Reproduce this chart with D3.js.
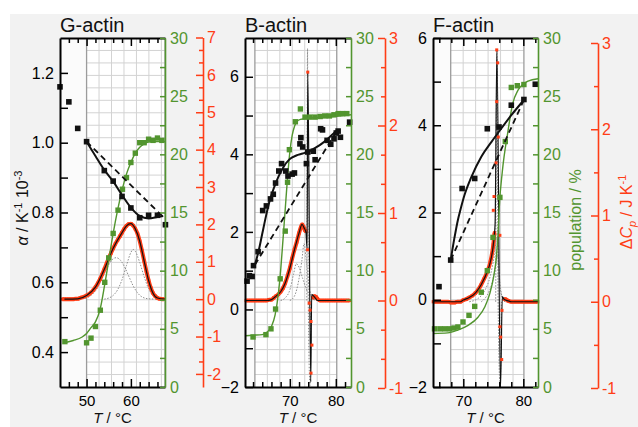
<!DOCTYPE html>
<html>
<head>
<meta charset="utf-8">
<script src="https://cdn.jsdelivr.net/npm/d3@7"></script>
<style>
  body { margin: 0; background: #fff; }
  text { font-family: "Liberation Sans", Arial, sans-serif; }
</style>
</head>
<body>
<svg id="fig" width="638" height="427"></svg>
<script>

// ---------- G-actin ----------
var gAlpha = [[44,1.16],[46,1.117],[48,1.041],[50,1.003],[54,0.92],[56,0.89],[58,0.846],[60,0.813],[62,0.785],[64,0.792],[66,0.792],[67.8,0.765]];
var gAlphaFit = [[50,1.003],[52,0.962],[54,0.922],[56,0.889],[58,0.85],[60,0.814],[62,0.79],[64,0.783],[66,0.787],[67.3,0.79]];
var gAlphaLin = [[50,1.003],[67.3,0.787]];
var gPop = [[45.1,3.9],[50,3.8],[51,4.2],[52,5.2],[53.1,6.6],[54.1,9.0],[55,11.1],[56,13.2],[57.1,15.2],[58.1,17.0],[59,18.0],[60,19.3],[61,20.1],[62,21.0],[63,21.0],[64,21.3],[65,21.2],[66,21.4],[67,21.2]];
var gPopFit = [[45,3.8],[47,4.0],[49,4.3],[50,4.6],[51,5.1],[52,5.6],[53,6.6],[54,8.6],[55,10.9],[56,13.2],[57,15.2],[58,16.9],[59,18.3],[60,19.3],[61,20.1],[62,20.6],[63,20.9],[64,21.05],[66,21.1],[67.7,21.1]];
var gCp = [[44.5,0],[45,0],[45.5,0],[46,0],[46.5,0],[47,0],[47.5,0.01],[48,0.01],[48.5,0.03],[49,0.05],[49.5,0.07],[50,0.1],[50.5,0.13],[51,0.18],[51.5,0.24],[52,0.32],[52.5,0.42],[53,0.53],[53.5,0.66],[54,0.8],[54.5,0.95],[55,1.1],[55.5,1.23],[56,1.36],[56.5,1.48],[57,1.58],[57.5,1.68],[58,1.78],[58.5,1.88],[59,1.96],[59.5,2.01],[60,2.02],[60.5,1.97],[61,1.88],[61.5,1.75],[62,1.55],[62.5,1.3],[63,1.02],[63.5,0.75],[64,0.5],[64.5,0.3],[65,0.16],[65.5,0.08],[66,0.03],[66.5,0.01],[67,0],[67.5,0]];
var gCpFit = [[45,0],[48,0.01],[50,0.1],[52,0.32],[54,0.8],[56,1.36],[58,1.78],[59,1.96],[60,2.02],[61,1.88],[62,1.55],[63,1.02],[64,0.5],[65,0.16],[66,0.03],[67.7,0]];
var gComp1 = [[45,0],[48,0],[50,0.03],[51,0.1],[52,0.22],[53,0.42],[54,0.68],[55,0.92],[56,1.08],[56.7,1.11],[57.5,1.06],[58.5,0.88],[59.5,0.62],[60.5,0.36],[61.5,0.17],[62.5,0.06],[64,0.01],[66,0]];
var gComp2 = [[54,0],[55,0.03],[56,0.1],[57,0.25],[58,0.52],[59,0.9],[60,1.25],[60.5,1.33],[61,1.28],[62,0.98],[63,0.6],[64,0.28],[65,0.09],[66,0.02],[67.7,0]];

// ---------- B-actin ----------
var bAlpha = [[60.7,0.73],[61.2,0.87],[61.8,0.85],[62.1,1.13],[63.1,1.49],[64.1,2.55],[64.9,2.67],[65.8,2.85],[66.4,2.97],[66.9,3.26],[67.6,3.57],[68.2,3.76],[69.1,3.57],[69.6,3.44],[70.5,3.49],[71.0,3.52],[72.2,4.27],[72.4,4.43],[72.8,4.19],[73.6,3.76],[73.9,4.06],[75.1,4.08],[75.5,3.86],[76.7,4.66],[77.1,4.63],[78.1,4.36],[78.9,4.26],[79.6,4.40],[80.1,4.55],[80.5,4.6],[81.0,4.44],[83,4.83]];
var bAlphaFit = [[62.4,1.15],[63.2,1.5],[64,1.95],[64.8,2.4],[65.6,2.8],[66.5,3.12],[67.5,3.42],[68.5,3.65],[69.9,3.87],[71.4,3.97],[72.8,4.02],[74.2,4.08],[75.7,4.18],[77.1,4.29],[78.5,4.43],[80.3,4.62]];
var bAlphaLin = [[62.4,1.15],[80.2,4.6]];
var bPop = [[62,4.3],[64.8,4.5],[65.9,5.0],[66.9,6.7],[67.9,9.3],[69.0,13.4],[69.5,17.6],[69.9,20.4],[71.2,22.8],[72.3,23.9],[73.3,23.2],[74.4,23.2],[75.5,23.2],[76.6,23.25],[77.6,23.3],[78.6,23.3],[79.6,23.4],[80.5,23.5],[81.5,23.5],[82.4,23.5]];
var bPopFit = [[60.3,4.4],[62,4.45],[64,4.5],[65,4.7],[66,5.2],[66.8,6.2],[67.5,8],[68,10],[68.5,12.6],[69,15.3],[69.5,18],[70,20.2],[70.5,21.6],[71,22.4],[71.5,22.8],[72.3,23.0],[74,23.1],[78,23.2],[83.3,23.4]];
var bCpPre = [[60.5,0],[61,0],[61.5,0],[62,0],[62.5,0],[63,0],[63.5,0],[64,0],[64.5,0],[65,0],[65.5,0.01],[66,0.01],[66.5,0.03],[67,0.05],[67.5,0.07],[68,0.1],[68.5,0.14],[69,0.2],[69.5,0.28],[70,0.37],[70.5,0.48],[71,0.58],[71.5,0.67],[72,0.77],[72.5,0.85],[72.7,0.87],[73,0.84],[73.3,0.8],[73.5,0.79]];
var bCpPost = [[75,0.03],[75.3,0.05],[75.7,0.04],[76,0.02],[76.5,0],[77,0],[77.5,0],[78,0],[78.5,0],[79,0],[79.5,0],[80,0],[80.5,0],[81,0],[81.5,0],[82,0],[82.5,0],[83,0]];
var bCpSpike = [[73.85,0.58],[73.9,2.61],[74.0,1.69],[74.2,-0.03],[74.4,-0.11],[74.6,-0.24],[74.8,-0.51],[74.6,-0.83]];
var bCpFit = [[60.3,0],[65,0],[66,0.01],[67,0.05],[68,0.1],[69,0.2],[70,0.37],[71,0.58],[72,0.77],[72.65,0.87],[73.1,0.83],[73.5,0.78],[73.75,0.6],[73.9,2.61],[74.55,-0.93],[74.75,0.07],[75,0.06],[75.5,0.03],[76,0],[83.3,0]];
var bComp1 = [[68,0],[69,0.03],[70,0.12],[70.8,0.3],[71.4,0.42],[72,0.38],[72.8,0.25],[73.6,0.13],[74.5,0.05],[75.5,0]];
var bComp2 = [[70,0],[71,0.05],[72,0.25],[72.6,0.45],[73.1,0.65],[73.6,0.45],[74.2,0.15],[75,0.02],[76,0]];
var bComp3 = [[73.7,0],[73.85,2.88],[74.0,0],[74.4,-0.97],[74.6,0]];

// ---------- F-actin ----------
var fAlpha = [[65.95,0.30],[67.9,0.91],[69.8,2.55],[71.9,2.78],[74.0,3.92],[75.95,3.96],[78.0,4.46],[80.1,4.59],[82.0,4.94]];
var fAlphaFit = [[67.9,0.91],[68.5,1.4],[69.1,1.83],[69.5,2.05],[70.2,2.4],[71.3,2.8],[73,3.28],[74.7,3.62],[76.3,3.92],[78,4.23],[80.1,4.58]];
var fAlphaLin = [[67.9,0.91],[80.1,4.58]];
var fPop = [[65.2,5.0],[66.1,5.0],[66.9,5.0],[67.7,5.0],[68.45,5.07],[69.1,5.16],[69.95,5.59],[70.95,6.16],[71.9,6.93],[73.0,8.15],[74.0,10.0],[74.95,12.86],[76.1,16.3],[77.0,21.1],[78.0,25.75],[79.0,25.9],[80.1,26.0]];
var fPopFit = [[64.95,4.6],[67.4,4.65],[69.1,4.9],[70.8,5.3],[72.45,6.0],[73.6,6.9],[74.4,8.0],[75.1,9.6],[75.5,11.1],[75.8,13.2],[76.0,15.5],[76.5,18.5],[77.45,22.0],[78.2,24.3],[79.1,25.5],[80.8,26.3],[82.45,26.5]];
var fCpPre = [[65,0],[65.5,0],[66,0],[66.5,0],[67,0],[67.5,0],[68,-0.01],[68.5,-0.01],[69,0],[69.5,0],[70,0.02],[70.5,0.03],[71,0.05],[71.5,0.07],[72,0.1],[72.5,0.14],[73,0.2],[73.5,0.27],[74,0.35],[74.5,0.46],[75,0.66],[75.2,0.8]];
var fCpPost = [[76.8,0.03],[77,0.03],[77.5,0.01],[78,0],[78.5,0],[79,0],[79.5,0],[80,0],[80.5,0],[81,0],[81.5,0],[82,0],[82.4,0]];
var fCpSpike = [[75.0,1.06],[75.12,1.22],[75.45,1.61],[75.83,1.91],[75.57,2.32],[75.73,2.77],[75.57,2.92],[76.1,0.77],[76.45,-0.1],[76.1,-0.29],[76.23,-0.41],[76.4,-0.67]];
var fCpFit = [[64.95,0],[69.5,0],[70,0.02],[71,0.05],[72,0.1],[73,0.2],[74,0.35],[74.5,0.46],[75,0.66],[75.3,0.9],[75.6,2.92],[76.2,-1.0],[76.5,0.06],[76.8,0.03],[77.5,0.01],[78,0],[82.45,0]];
var fComp1 = [[71,0],[72.5,0.04],[73.5,0.12],[74.5,0.3],[75.2,0.55],[75.6,0.75],[76,0.3],[76.5,0.05],[77,0]];
var fComp2 = [[73,0],[74,0.08],[74.8,0.22],[75.4,0.42],[75.8,0.55],[76.1,0.2],[76.6,0.02],[77,0]];
var fComp3 = [[75.4,0],[75.6,2.92],[75.8,0],[76.15,-1.0],[76.35,0]];

// tick values
var popTicks = [0,5,10,15,20,25,30];
var popMinor = [2.5,7.5,12.5,17.5,22.5,27.5];
var gAlphaTicks = [0.4,0.6,0.8,1.0,1.2];
var gAlphaMinor = [0.5,0.7,0.9,1.1];
var bfAlphaTicks = [-2,0,2,4,6];
var bfAlphaMinor = [-1,1,3,5];
var gCpTicks = [-2,-1,0,1,2,3,4,5,6,7];
var bfCpTicks = [-1,0,1,2,3];
var gTempTicks = [50,60];
var gTempMinor = [46,48,52,54,56,58,62,64,66];
var bTempMinor = [62,64,66,68,72,74,76,78,82];
var fTempMinor = [66,68,72,74,76,78,82];
var bfTempTicks = [70,80];

var GREEN = "#52952f", RED = "#ff3d16", GRID = "#d3d3d3", GRIDEDGE = "#9c9c9c";
var plotTop = 38, plotBottom = 387;
var fontFam = "Liberation Sans, Arial, sans-serif";

var svg = d3.select("#fig");

// backdrop
svg.append("rect").attr("x", 10).attr("y", 14).attr("width", 628).attr("height", 413).attr("fill", "#f2f2f2");

function minorBetween(lo, hi, step) {
  // minor positions between integer ticks
  return d3.range(lo, hi + 1e-6, step).filter(function(v) { return Math.abs(v - Math.round(v)) > 1e-6; });
}

var panels = [
  { title: "G-actin", left: 60, right: 165, xDom: [44, 67.7], yDom: [0.3, 1.3], yMajor: gAlphaTicks, yMinor: gAlphaMinor,
    yFmt: d3.format(".1f"), xMajor: gTempTicks, xMinor: gTempMinor, grid: [50, 67.7],
    redX: 203, cpDom: [-2.35, 7], cpRange: [387, 37.5], cpMajor: gCpTicks, cpMinor: minorBetween(-2, 7, 1/3),
    alpha: gAlpha, alphaFit: gAlphaFit, alphaLin: gAlphaLin, pop: gPop, popFit: gPopFit,
    cpBands: [gCp], cpSpike: [], cpFit: gCpFit, comps: [gComp1, gComp2] },
  { title: "B-actin", left: 245, right: 351, xDom: [60.25, 83.3], yDom: [-2, 7], yMajor: bfAlphaTicks, yMinor: bfAlphaMinor,
    yFmt: d3.format("d"), xMajor: bfTempTicks, xMinor: bTempMinor, grid: [62.4, 80.2],
    redX: 385, cpDom: [-1, 3], cpRange: [388, 38], cpMajor: bfCpTicks, cpMinor: minorBetween(-1, 3, 1/3),
    alpha: bAlpha, alphaFit: bAlphaFit, alphaLin: bAlphaLin, pop: bPop, popFit: bPopFit,
    cpBands: [bCpPre, bCpPost], cpSpike: bCpSpike, cpFit: bCpFit, comps: [bComp1, bComp2, bComp3] },
  { title: "F-actin", left: 433, right: 538, xDom: [64.95, 82.45], yDom: [-2, 6], yMajor: bfAlphaTicks, yMinor: bfAlphaMinor,
    yFmt: d3.format("d"), xMajor: bfTempTicks, xMinor: fTempMinor, grid: [67.9, 80.1],
    redX: 598, cpDom: [-1, 3], cpRange: [388, 43], cpMajor: bfCpTicks, cpMinor: minorBetween(-1, 3, 0.5),
    alpha: fAlpha, alphaFit: fAlphaFit, alphaLin: fAlphaLin, pop: fPop, popFit: fPopFit,
    cpBands: [fCpPre, fCpPost], cpSpike: fCpSpike, cpFit: fCpFit, comps: [fComp1, fComp2, fComp3] }
];

function styleAxis(sel, color, width) {
  sel.attr("color", color).attr("font-size", 16).attr("font-family", fontFam);
  sel.select(".domain").attr("stroke-width", width);
  sel.selectAll(".tick line").attr("stroke-width", 1.5);
}

panels.forEach(function(p) {
  var x = d3.scaleLinear().domain(p.xDom).range([p.left, p.right]);
  var y = d3.scaleLinear().domain(p.yDom).range([plotBottom, plotTop]);
  var yPop = d3.scaleLinear().domain([0, 30]).range([plotBottom, plotTop]);
  var yCp = d3.scaleLinear().domain(p.cpDom).range(p.cpRange);
  var g = svg.append("g");

  // plot area + graph paper
  g.append("rect").attr("x", p.left).attr("y", plotTop).attr("width", p.right - p.left).attr("height", plotBottom - plotTop).attr("fill", "#fbfbfb");
  var gx0 = x(p.grid[0]), gx1 = x(p.grid[1]);
  var cell = (plotBottom - plotTop) / 28;
  g.append("rect").attr("x", gx0).attr("y", plotTop).attr("width", gx1 - gx0).attr("height", plotBottom - plotTop).attr("fill", "#ffffff");
  g.selectAll(".vg").data(d3.range(gx0 + cell, gx1 - 2, cell)).enter().append("line")
    .attr("x1", function(d) { return d; }).attr("x2", function(d) { return d; })
    .attr("y1", plotTop).attr("y2", plotBottom).attr("stroke", GRID).attr("stroke-width", 1);
  g.selectAll(".hg").data(d3.range(plotTop + cell, plotBottom - 2, cell)).enter().append("line")
    .attr("x1", gx0).attr("x2", gx1)
    .attr("y1", function(d) { return d; }).attr("y2", function(d) { return d; })
    .attr("stroke", GRID).attr("stroke-width", 1);
  [gx0, gx1].forEach(function(v) {
    g.append("line").attr("x1", v).attr("x2", v).attr("y1", plotTop).attr("y2", plotBottom)
      .attr("stroke", GRIDEDGE).attr("stroke-width", 1.3);
  });

  var lineCp = d3.line().x(function(d) { return x(d[0]); }).y(function(d) { return yCp(d[1]); }).curve(d3.curveMonotoneX);
  var lineA = d3.line().x(function(d) { return x(d[0]); }).y(function(d) { return y(d[1]); }).curve(d3.curveMonotoneX);
  var lineP = d3.line().x(function(d) { return x(d[0]); }).y(function(d) { return yPop(d[1]); }).curve(d3.curveMonotoneX);

  // dotted component peaks
  p.comps.forEach(function(c) {
    g.append("path").datum(c).attr("d", lineCp).attr("fill", "none")
      .attr("stroke", "#8c8c8c").attr("stroke-width", 1).attr("stroke-dasharray", "1.5,1.5");
  });

  // heat capacity data (dense red dots)
  p.cpBands.forEach(function(b) {
    g.append("path").datum(b).attr("d", lineCp).attr("fill", "none")
      .attr("stroke", RED).attr("stroke-width", 4);
    g.selectAll(null).data(b).enter().append("rect")
      .attr("x", function(d) { return x(d[0]) - 1.6; }).attr("y", function(d) { return yCp(d[1]) - 1.6; })
      .attr("width", 3.2).attr("height", 3.2).attr("fill", RED);
  });

  // fit on Cp
  g.append("path").datum(p.cpFit).attr("d", lineCp).attr("fill", "none")
    .attr("stroke", "#111").attr("stroke-width", 1.2).attr("stroke-linejoin", "round");

  g.selectAll(null).data(p.cpSpike).enter().append("rect")
    .attr("x", function(d) { return x(d[0]) - 1.5; }).attr("y", function(d) { return yCp(d[1]) - 1.5; })
    .attr("width", 3).attr("height", 3).attr("fill", RED);

  // population
  g.append("path").datum(p.popFit).attr("d", lineP).attr("fill", "none")
    .attr("stroke", GREEN).attr("stroke-width", 1.4);
  g.selectAll(null).data(p.pop).enter().append("rect")
    .attr("x", function(d) { return x(d[0]) - 2.7; }).attr("y", function(d) { return yPop(d[1]) - 2.7; })
    .attr("width", 5.4).attr("height", 5.4).attr("fill", GREEN);

  // expansion coefficient
  g.append("path").datum(p.alphaLin).attr("d", lineA).attr("fill", "none")
    .attr("stroke", "#111").attr("stroke-width", 1.8).attr("stroke-dasharray", "6,4");
  g.append("path").datum(p.alphaFit).attr("d", lineA).attr("fill", "none")
    .attr("stroke", "#111").attr("stroke-width", 2);
  g.selectAll(null).data(p.alpha).enter().append("rect")
    .attr("x", function(d) { return x(d[0]) - 2.8; }).attr("y", function(d) { return y(d[1]) - 2.8; })
    .attr("width", 5.6).attr("height", 5.6).attr("fill", "#111");

  // axes - left (alpha)
  g.append("g").attr("transform", "translate(" + p.left + ",0)")
    .call(d3.axisLeft(y).tickValues(p.yMajor).tickSize(-8).tickSizeOuter(0).tickPadding(6).tickFormat(p.yFmt))
    .call(styleAxis, "#000", 2);
  g.append("g").attr("transform", "translate(" + p.left + ",0)")
    .call(d3.axisLeft(y).tickValues(p.yMinor).tickSize(-8).tickFormat(""))
    .call(styleAxis, "#000", 2).call(function(s) { s.select(".domain").remove(); });

  // top + bottom (temperature)
  g.append("g").attr("transform", "translate(0," + plotBottom + ")")
    .call(d3.axisBottom(x).tickValues(p.xMajor).tickSize(-8).tickSizeOuter(0).tickPadding(8))
    .call(styleAxis, "#000", 2).attr("font-size", 15);
  g.append("g").attr("transform", "translate(0," + plotBottom + ")")
    .call(d3.axisBottom(x).tickValues(p.xMinor).tickSize(-5).tickFormat(""))
    .call(styleAxis, "#000", 2).call(function(s) { s.select(".domain").remove(); });
  g.append("g").attr("transform", "translate(0," + plotTop + ")")
    .call(d3.axisTop(x).tickValues(p.xMajor).tickSize(-8).tickSizeOuter(0).tickFormat(""))
    .call(styleAxis, "#000", 2);
  g.append("g").attr("transform", "translate(0," + plotTop + ")")
    .call(d3.axisTop(x).tickValues(p.xMinor).tickSize(-5).tickFormat(""))
    .call(styleAxis, "#000", 2).call(function(s) { s.select(".domain").remove(); });

  // right - population (green)
  g.append("g").attr("transform", "translate(" + p.right + ",0)")
    .call(d3.axisRight(yPop).tickValues(popTicks).tickSize(-5).tickSizeOuter(0).tickPadding(5))
    .call(styleAxis, GREEN, 1.6);
  g.append("g").attr("transform", "translate(" + p.right + ",0)")
    .call(d3.axisRight(yPop).tickValues(popMinor).tickSize(-5).tickFormat(""))
    .call(styleAxis, GREEN, 1.6).call(function(s) { s.select(".domain").remove(); });

  // far right - heat capacity (red)
  g.append("g").attr("transform", "translate(" + p.redX + ",0)")
    .call(d3.axisRight(yCp).tickValues(p.cpMajor).tickSize(-7).tickSizeOuter(0).tickPadding(4).tickFormat(function(d) { return String(d); }))
    .call(styleAxis, RED, 1.6);
  g.append("g").attr("transform", "translate(" + p.redX + ",0)")
    .call(d3.axisRight(yCp).tickValues(p.cpMinor).tickSize(-4).tickFormat(""))
    .call(styleAxis, RED, 1.6).call(function(s) { s.select(".domain").remove(); });

  // title + x label
  g.append("text").attr("x", p.left).attr("y", 32).attr("font-size", 20).attr("fill", "#111").text(p.title);
  var xl = g.append("text").attr("x", (p.left + p.right) / 2).attr("y", 423).attr("text-anchor", "middle")
    .attr("font-size", 15).attr("fill", "#111");
  xl.append("tspan").attr("font-style", "italic").text("T");
  xl.append("tspan").text(" / °C");
});

// y titles
var t1 = svg.append("text").attr("transform", "translate(28,208) rotate(-90)").attr("text-anchor", "middle")
  .attr("font-size", 16).attr("fill", "#111");
t1.append("tspan").attr("font-style", "italic").text("α");
t1.append("tspan").text(" / K");
t1.append("tspan").attr("font-size", 11).attr("dy", -6).text("-1");
t1.append("tspan").attr("dy", 6).text(" 10");
t1.append("tspan").attr("font-size", 11).attr("dy", -6).text("-3");

svg.append("text").attr("transform", "translate(581,220) rotate(-90)").attr("text-anchor", "middle")
  .attr("font-size", 16).attr("fill", GREEN).text("population / %");

var t3 = svg.append("text").attr("transform", "translate(632,212) rotate(-90)").attr("text-anchor", "middle")
  .attr("font-size", 16).attr("fill", RED);
t3.append("tspan").text("Δ");
t3.append("tspan").attr("font-style", "italic").text("C");
t3.append("tspan").attr("font-style", "italic").attr("font-size", 11).attr("dy", 4).text("p");
t3.append("tspan").attr("dy", -4).text(" / J K");
t3.append("tspan").attr("font-size", 11).attr("dy", -6).text("-1");

</script>
</body>
</html>
